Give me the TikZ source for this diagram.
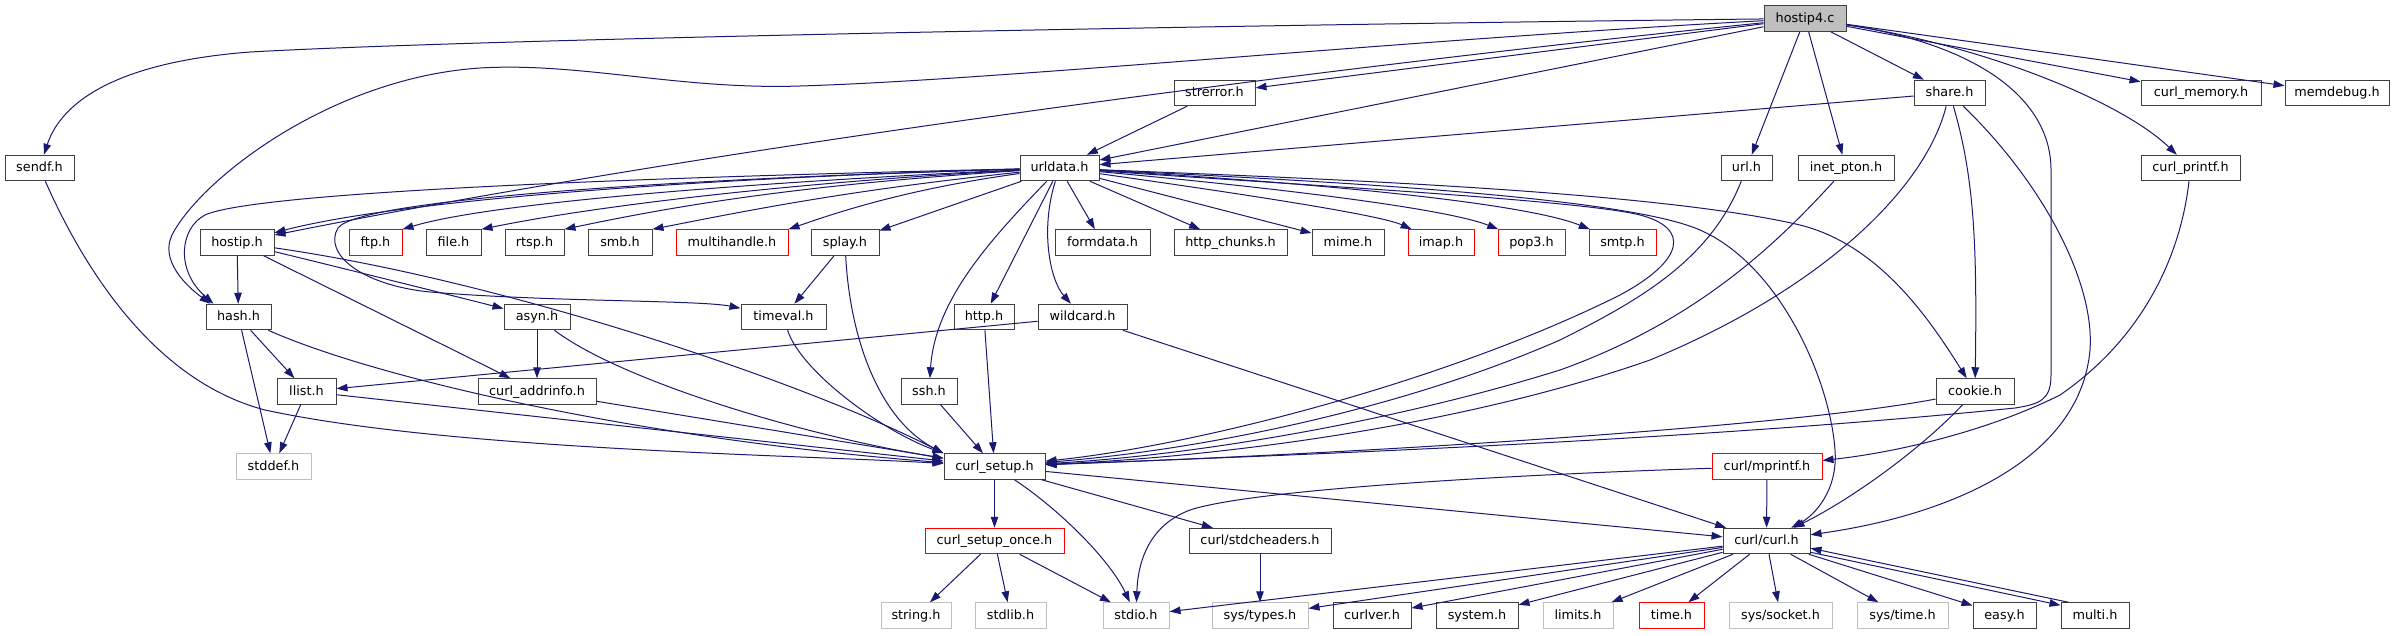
\documentclass[tikz,border=0pt]{standalone}
\usepackage{fontspec}
\setmainfont{DejaVu Sans}
\usetikzlibrary{arrows.meta}
\definecolor{edgec}{HTML}{191970}
\definecolor{bordc}{HTML}{404040}
\definecolor{greyc}{HTML}{BFBFBF}
\definecolor{redc}{HTML}{FF0000}
\begin{document}
\begin{tikzpicture}[x=1pt,y=-1pt,
  font=\fontsize{12.8}{15}\selectfont,
  nd/.style={draw=bordc, line width=1pt, fill=white, rectangle, inner sep=0pt,
    minimum height=25.5pt, text height=10pt, text depth=3pt, text=black},
  ndr/.style={nd, draw=redc},
  ndg/.style={nd, draw=greyc},
  ndf/.style={nd, fill=greyc},
  dep/.style={draw=edgec, line width=1pt, -{Triangle[length=11pt,width=7.5pt]}}]
\useasboundingbox (0,0) rectangle (2393,635);
\fill[white] (0,0) rectangle (2393,635);
% row 0
\node[ndf, minimum width=82pt] (hostip4) at (1805,18.5) {hostip4.c};
% row 1
\node[nd, minimum width=81pt] (strerror) at (1214.5,93) {strerror.h};
\node[nd, minimum width=71pt] (share) at (1949.5,93) {share.h};
\node[nd, minimum width=120pt] (curlmem) at (2201,93) {curl\_memory.h};
\node[nd, minimum width=104pt] (memdebug) at (2337,93) {memdebug.h};
% row 2
\node[nd, minimum width=69pt] (sendf) at (39.5,168) {sendf.h};
\node[nd, minimum width=79pt] (urldata) at (1059.5,168) {urldata.h};
\node[nd, minimum width=51pt] (url) at (1746.5,168) {url.h};
\node[nd, minimum width=96pt] (inetpton) at (1846,168) {inet\_pton.h};
\node[nd, minimum width=99pt] (curlprintf) at (2190.5,168) {curl\_printf.h};
% row 3
\node[nd, minimum width=74pt] (hostip) at (237,242.5) {hostip.h};
\node[ndr, minimum width=53pt] (ftp) at (375.5,242.5) {ftp.h};
\node[nd, minimum width=55pt] (file) at (453.5,242.5) {file.h};
\node[nd, minimum width=59pt] (rtsp) at (534.5,242.5) {rtsp.h};
\node[nd, minimum width=64pt] (smb) at (620,242.5) {smb.h};
\node[ndr, minimum width=112pt] (multihandle) at (732,242.5) {multihandle.h};
\node[nd, minimum width=68pt] (splay) at (845,242.5) {splay.h};
\node[nd, minimum width=95pt] (formdata) at (1102.5,242.5) {formdata.h};
\node[nd, minimum width=113pt] (httpchunks) at (1230.5,242.5) {http\_chunks.h};
\node[nd, minimum width=72pt] (mime) at (1348,242.5) {mime.h};
\node[ndr, minimum width=66pt] (imap) at (1441,242.5) {imap.h};
\node[ndr, minimum width=67pt] (pop3) at (1531.5,242.5) {pop3.h};
\node[ndr, minimum width=67pt] (smtp) at (1622.5,242.5) {smtp.h};
% row 4
\node[nd, minimum width=65pt] (hash) at (238.5,317) {hash.h};
\node[nd, minimum width=66pt] (asyn) at (537,317) {asyn.h};
\node[nd, minimum width=85pt] (timeval) at (783.5,317) {timeval.h};
\node[nd, minimum width=60pt] (http) at (984,317) {http.h};
\node[nd, minimum width=89pt] (wildcard) at (1082.5,317) {wildcard.h};
% row 5
\node[nd, minimum width=59pt] (llist) at (306.5,391.5) {llist.h};
\node[nd, minimum width=118pt] (curladdr) at (537,391.5) {curl\_addrinfo.h};
\node[nd, minimum width=56pt] (ssh) at (929,391.5) {ssh.h};
\node[nd, minimum width=78pt] (cookie) at (1975,391.5) {cookie.h};
% row 6
\node[ndg, minimum width=75pt] (stddef) at (273.5,466.5) {stddef.h};
\node[nd, minimum width=101pt] (curlsetup) at (994.5,466.5) {curl\_setup.h};
\node[ndr, minimum width=110pt] (mprintf) at (1767,466.5) {curl/mprintf.h};
% row 7
\node[ndr, minimum width=139pt] (setuponce) at (994.5,541) {curl\_setup\_once.h};
\node[nd, minimum width=142pt] (stdcheaders) at (1260,541) {curl/stdcheaders.h};
\node[nd, minimum width=87pt] (curlh) at (1766.5,541) {curl/curl.h};
% row 8
\node[ndg, minimum width=70pt] (string) at (916,615.5) {string.h};
\node[ndg, minimum width=71pt] (stdlib) at (1010.5,615.5) {stdlib.h};
\node[ndg, minimum width=66pt] (stdio) at (1136,615.5) {stdio.h};
\node[ndg, minimum width=96pt] (systypes) at (1260,615.5) {sys/types.h};
\node[nd, minimum width=78pt] (curlver) at (1372,615.5) {curlver.h};
\node[nd, minimum width=82pt] (system) at (1477,615.5) {system.h};
\node[ndg, minimum width=70pt] (limits) at (1578,615.5) {limits.h};
\node[ndr, minimum width=65pt] (timeh) at (1671.5,615.5) {time.h};
\node[ndg, minimum width=103pt] (syssocket) at (1780.5,615.5) {sys/socket.h};
\node[ndg, minimum width=91pt] (systime) at (1902.5,615.5) {sys/time.h};
\node[nd, minimum width=63pt] (easy) at (2004.5,615.5) {easy.h};
\node[nd, minimum width=68pt] (multi) at (2095,615.5) {multi.h};

% hostip4.c
\draw[dep] (hostip4) .. controls (1300,24) and (500,38) .. (250,52) .. controls (120,62) and (62,100) .. (sendf);
\draw[dep] (hostip4) .. controls (1400,40) and (1000,80) .. (800,86) .. controls (680,90) and (580,62) .. (480,68) .. controls (330,78) and (200,180) .. (172,235) .. controls (160,260) and (185,285) .. ([xshift=5pt]hash.north west);
\draw[dep] (hostip4) .. controls (1300,70) and (700,150) .. (hostip);
\draw[dep] (hostip4) -- (strerror);
\draw[dep] (hostip4) -- (urldata);
\draw[dep] (hostip4) -- (url);
\draw[dep] (hostip4) -- (inetpton);
\draw[dep] (hostip4) -- (share);
\draw[dep] (hostip4) -- (curlmem);
\draw[dep] (hostip4) -- (memdebug);
\draw[dep] (hostip4) .. controls (1980,45) and (2120,100) .. (curlprintf);
\draw[dep] (hostip4) .. controls (1980,45) and (2051,100) .. (2051,170) -- (2051,375) .. controls (2051,400) and (2040,404) .. (2015,408) .. controls (1700,440) and (1300,455) .. (curlsetup);
% strerror.h, share.h
\draw[dep] (strerror) -- (urldata);
\draw[dep] (share) -- (urldata);
\draw[dep] (share) .. controls (1925,190) and (1820,290) .. (1650,360) .. controls (1450,430) and (1200,458) .. (curlsetup);
\draw[dep] (share) .. controls (1975,180) and (1977,250) .. (cookie);
\draw[dep] (share) .. controls (2040,180) and (2095,280) .. (2090,350) .. controls (2080,460) and (1950,515) .. (curlh);
% url.h, inet_pton.h, curl_printf.h
\draw[dep] (url) .. controls (1710,260) and (1640,300) .. (1560,340) .. controls (1400,410) and (1200,450) .. (curlsetup);
\draw[dep] (inetpton) .. controls (1780,240) and (1700,320) .. (1560,370) .. controls (1400,420) and (1200,455) .. (curlsetup);
\draw[dep] (curlprintf) .. controls (2180,260) and (2140,340) .. (2060,395) .. controls (1990,430) and (1900,452) .. (mprintf);
% urldata.h
\draw[dep] (urldata) .. controls (700,178) and (400,200) .. (hostip);
\draw[dep] (urldata) .. controls (700,176) and (260,190) .. (205,215) .. controls (180,228) and (175,270) .. ([xshift=8pt]hash.north west);
\draw[dep] (urldata) .. controls (700,178) and (360,198) .. (338,228) .. controls (323,253) and (360,285) .. (430,292) .. controls (550,302) and (700,300) .. (timeval);
\draw[dep] (urldata) .. controls (800,180) and (500,200) .. (ftp.north east);
\draw[dep] (urldata) .. controls (800,182) and (600,205) .. (file.north east);
\draw[dep] (urldata) .. controls (800,185) and (680,205) .. (rtsp.north east);
\draw[dep] (urldata) .. controls (850,190) and (750,210) .. (smb.north east);
\draw[dep] (urldata) .. controls (900,190) and (830,215) .. (multihandle.north east);
\draw[dep] (urldata) -- (splay);
\draw[dep] (urldata) -- (formdata);
\draw[dep] (urldata) -- (httpchunks);
\draw[dep] (urldata) -- (mime);
\draw[dep] (urldata) .. controls (1250,195) and (1380,215) .. (imap);
\draw[dep] (urldata) .. controls (1300,190) and (1450,210) .. (pop3);
\draw[dep] (urldata) .. controls (1350,185) and (1530,205) .. (smtp);
\draw[dep] (urldata) .. controls (990,240) and (935,300) .. (ssh);
\draw[dep] (urldata) -- (http);
\draw[dep] (urldata) .. controls (1040,230) and (1050,280) .. (wildcard);
\draw[dep] (urldata) .. controls (1300,185) and (1580,200) .. (1640,215) .. controls (1690,228) and (1685,260) .. (1620,295) .. controls (1450,380) and (1200,445) .. (curlsetup);
\draw[dep] (urldata) .. controls (1300,180) and (1620,195) .. (1700,230) .. controls (1780,265) and (1830,380) .. (1835,450) .. controls (1838,490) and (1815,515) .. (curlh);
\draw[dep] (urldata) .. controls (1300,178) and (1650,190) .. (1800,225) .. controls (1880,245) and (1930,320) .. (cookie);
% hostip.h
\draw[dep] (hostip) -- (hash);
\draw[dep] (hostip) .. controls (350,270) and (450,295) .. (asyn);
\draw[dep] (hostip) -- (curladdr);
\draw[dep] (hostip) .. controls (500,280) and (800,380) .. (curlsetup.north west);
% lower left
\draw[dep] (hash) -- (llist);
\draw[dep] (hash) -- (stddef);
\draw[dep] (hash) .. controls (380,380) and (650,440) .. (curlsetup);
\draw[dep] (llist) -- (stddef);
\draw[dep] (llist) -- (curlsetup);
\draw[dep] (asyn) -- (curladdr);
\draw[dep] (asyn) .. controls (620,380) and (800,435) .. (curlsetup);
\draw[dep] (curladdr) -- (curlsetup);
\draw[dep] (timeval) .. controls (800,370) and (880,430) .. (curlsetup.north west);
\draw[dep] (splay) -- (timeval);
\draw[dep] (splay) .. controls (850,340) and (880,420) .. (curlsetup.north west);
\draw[dep] (ssh) -- (curlsetup);
\draw[dep] (http) -- (curlsetup);
\draw[dep] (wildcard) -- (llist);
\draw[dep] (wildcard) -- (curlh);
\draw[dep] (sendf) .. controls (80,260) and (150,380) .. (265,410) .. controls (450,450) and (800,455) .. (curlsetup);
% cookie.h
\draw[dep] (cookie) .. controls (1800,425) and (1400,452) .. (curlsetup);
\draw[dep] (cookie) .. controls (1920,450) and (1850,500) .. (curlh);
% curl/mprintf.h
\draw[dep] (mprintf) -- (curlh);
\draw[dep] (mprintf) .. controls (1500,475) and (1250,490) .. (1190,510) .. controls (1150,525) and (1138,560) .. (stdio);
% curl_setup.h
\draw[dep] (curlsetup) -- (setuponce);
\draw[dep] (curlsetup) .. controls (1060,510) and (1110,560) .. (stdio);
\draw[dep] (curlsetup) -- (stdcheaders);
\draw[dep] (curlsetup) -- (curlh);
\draw[dep] (setuponce) -- (string);
\draw[dep] (setuponce) -- (stdlib);
\draw[dep] (setuponce) -- (stdio);
\draw[dep] (stdcheaders) -- (systypes);
% curl/curl.h
\foreach \t in {stdio,systypes,curlver,system,limits,timeh,syssocket,systime,easy}
  \draw[dep] (curlh) -- (\t);
\draw[dep] ([yshift=2pt]curlh.south east) -- ([yshift=-3pt]multi.north west);
\draw[dep] ([xshift=8pt]multi.north west) -- ([yshift=6pt]curlh.south east);
\end{tikzpicture}
\end{document}
